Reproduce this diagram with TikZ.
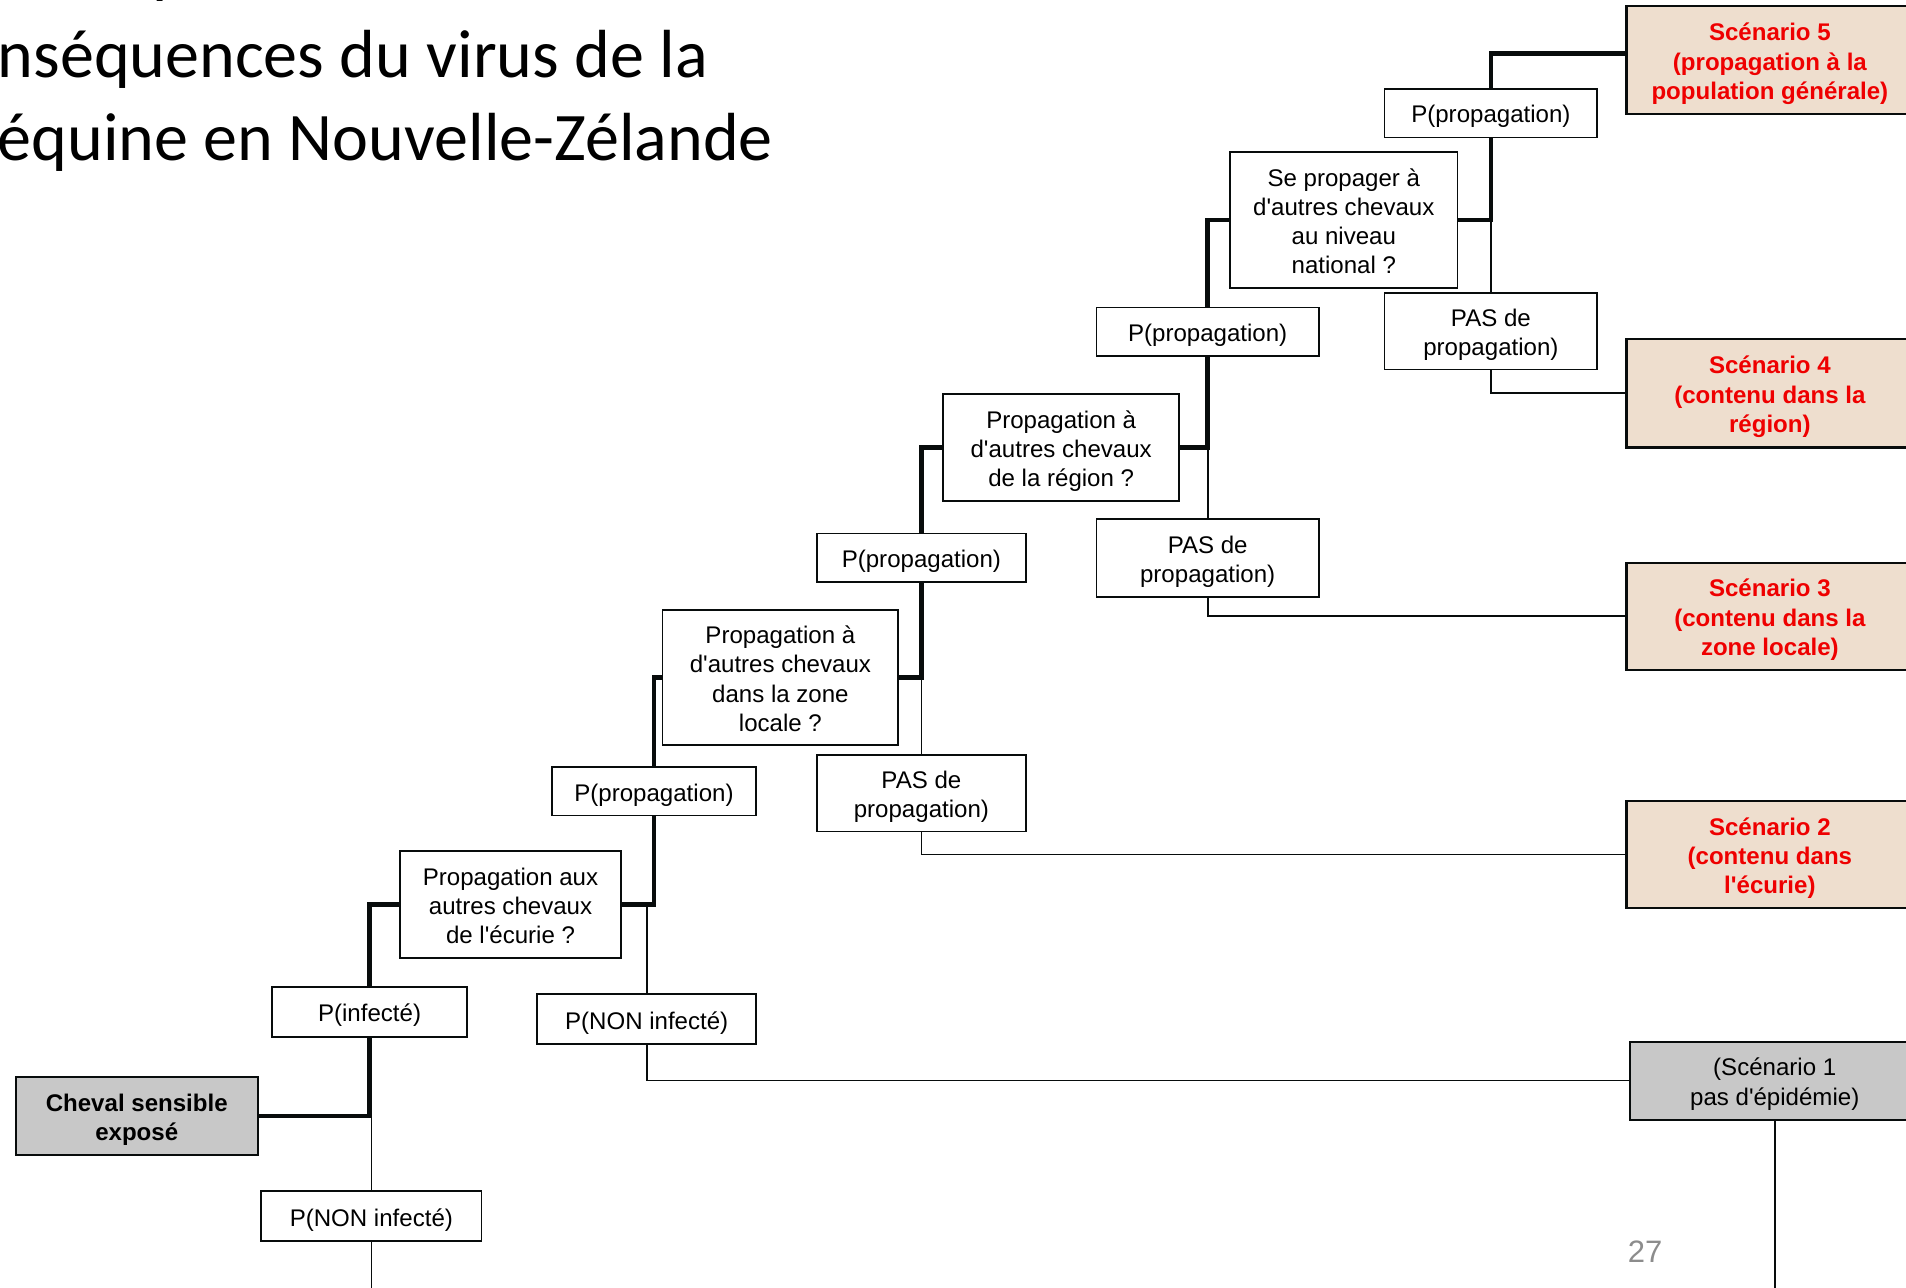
\documentclass[tikz,border=0pt]{standalone}
\usepackage{fontspec}
\setmainfont{Liberation Sans}
\newfontfamily\titlefont{Carlito}
\definecolor{scfill}{RGB}{238,222,206}
\definecolor{grayfill}{RGB}{200,200,200}
\definecolor{sctext}{RGB}{238,0,0}
\definecolor{pagegray}{RGB}{140,140,140}
\definecolor{linecol}{RGB}{8,12,12}
\newcommand{\q}{\textquotesingle}
\tikzset{
  box/.style={draw=linecol, line width=1.4pt, fill=white, align=center, inner sep=0pt,
    font=\fontsize{19.8}{24}\selectfont},
  lines/.style={text height={20pt+(#1-1)*24pt}, text depth=3.8pt},
  scbox/.style={box, fill=scfill, line width=2pt, text=sctext,
    font=\fontsize{19.8}{24}\selectfont\bfseries},
  thickline/.style={draw=linecol, line width=3.6pt, line join=miter},
  thinline/.style={draw=linecol, line width=1.4pt},
  title/.style={anchor=base west, inner sep=0pt, font=\titlefont\fontsize{56}{67}\selectfont},
}
\begin{document}
\begin{tikzpicture}[x=1pt,y=-1pt]
\useasboundingbox (0,0) rectangle (1568,1059);
\clip (0,0) rectangle (1568,1059);
\coordinate (bottom) at (0,1070);
% title fragments
\node[title] (tp) at (125,-8) {p};
\node[title] (t2) at (-2,64) {nséquences du virus de la};
\node[title] (t3) at (-2,132) {équine en Nouvelle-Zélande};
% nodes
\node[box, lines=2, fill=grayfill, font=\fontsize{19.8}{24}\selectfont\bfseries, minimum width=199pt, minimum height=64pt] (chev) at (112.5,918) {Cheval sensible\\exposé};
\node[box, lines=1, minimum width=160pt, minimum height=41pt] (pinf) at (304,832.5) {P(infecté)};
\node[box, lines=1, minimum width=181pt, minimum height=41pt] (pnon1) at (305.5,1000.5) {P(NON infecté)};
\node[box, lines=3, minimum width=182pt, minimum height=88pt] (ecu) at (420,744) {Propagation aux\\autres chevaux\\de l\q écurie ?};
\node[box, lines=1, minimum width=180pt, minimum height=41pt] (pnon2) at (532,838.5) {P(NON infecté)};
\node[box, lines=1, minimum width=168pt, minimum height=40pt] (pp2) at (538,651) {P(propagation)};
\node[box, lines=4, minimum width=194pt, minimum height=111pt] (loc) at (642,557.5) {Propagation à\\d\q autres chevaux\\dans la zone\\locale ?};
\node[box, lines=2, minimum width=172pt, minimum height=63pt] (pas1) at (758,652.5) {PAS de\\propagation)};
\node[box, lines=1, minimum width=172pt, minimum height=40pt] (pp3) at (758,459) {P(propagation)};
\node[box, lines=3, minimum width=194pt, minimum height=88pt] (reg) at (873,368) {Propagation à\\d\q autres chevaux\\de la région ?};
\node[box, lines=2, minimum width=183pt, minimum height=64pt] (pas2) at (993.5,459) {PAS de\\propagation)};
\node[box, lines=1, minimum width=183pt, minimum height=40pt] (pp4) at (993.5,273) {P(propagation)};
\node[box, lines=4, minimum width=187pt, minimum height=112pt] (nat) at (1105.5,181) {Se propager à\\d\q autres chevaux\\au niveau\\national ?};
\node[box, lines=2, minimum width=175pt, minimum height=63pt] (pas3) at (1226.5,272.5) {PAS de\\propagation)};
\node[box, lines=1, minimum width=175pt, minimum height=40pt] (pp5) at (1226.5,93) {P(propagation)};
\node[scbox, lines=3, minimum width=236pt, minimum height=89pt] (sc5) at (1456,49.5) {Scénario 5\\(propagation à la\\population générale)};
\node[scbox, lines=3, minimum width=236pt, minimum height=89pt] (sc4) at (1456,323.5) {Scénario 4\\(contenu dans la\\région)};
\node[scbox, lines=3, minimum width=236pt, minimum height=88pt] (sc3) at (1456,507) {Scénario 3\\(contenu dans la\\zone locale)};
\node[scbox, lines=3, minimum width=236pt, minimum height=88pt] (sc2) at (1456,703) {Scénario 2\\(contenu dans\\l\q écurie)};
\node[box, lines=2, fill=grayfill, line width=1.6pt, minimum width=238pt, minimum height=64pt] (sc1) at (1460,889) {(Scénario 1\\pas d\q épidémie)};
\node[anchor=base west, inner sep=0pt, text=pagegray, font=\fontsize{25.5}{30}\selectfont] (pg) at (1339,1039) {27};
% connectors
\draw[thinline] (pnon1.north) -- (pnon1.north |- chev.east);
\draw[thinline] (pnon1.south) -- (pnon1.south |- bottom);
\draw[thickline] (chev.east) -| (pinf.south);
\draw[thickline] (pinf.north) |- (ecu.west);
\draw[thinline] (pnon2.north) -- (pnon2.north |- ecu.east);
\draw[thickline] (ecu.east) -| (pp2.south);
\draw[thinline] (pnon2.south) |- (sc1.west);
\draw[thinline] (sc1.south) -- (sc1.south |- bottom);
\draw[thickline] (pp2.north) |- (loc.west);
\draw[thinline] (pas1.north) -- (pas1.north |- loc.east);
\draw[thickline] (loc.east) -| (pp3.south);
\draw[thinline] (pas1.south) |- (sc2.west);
\draw[thickline] (pp3.north) |- (reg.west);
\draw[thinline] (pas2.north) -- (pas2.north |- reg.east);
\draw[thickline] (reg.east) -| (pp4.south);
\draw[thinline] (pas2.south) |- (sc3.west);
\draw[thickline] (pp4.north) |- (nat.west);
\draw[thinline] (pas3.north) -- (pas3.north |- nat.east);
\draw[thickline] (nat.east) -| (pp5.south);
\draw[thinline] (pas3.south) |- (sc4.west);
\draw[thickline] (pp5.north) |- ([yshift=5.5pt]sc5.west);
\end{tikzpicture}
\end{document}
